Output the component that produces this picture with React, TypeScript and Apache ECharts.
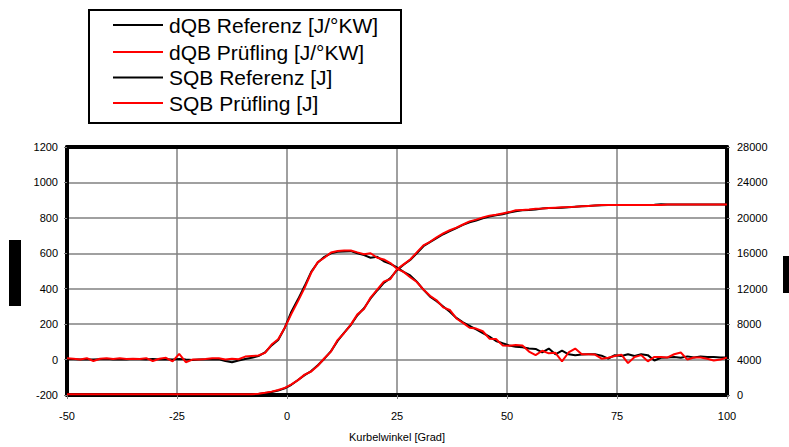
import React, { useEffect, useRef } from "react";
import * as echarts from "echarts";

// Kurbelwinkel [Grad]
const ANGLES = [
  -50, -48.5, -47, -45.5, -44, -42.5, -41, -39.5, -38, -36.5, -35, -33.5, -32, -30.5, -29, -27.5, -26, -24.5, -23, -21.5,
  -20, -18.5, -17, -15.5, -14, -12.5, -11, -9.5, -8, -6.5, -5, -3.5, -2, -0.5, 1, 2.5, 4, 5.5, 7, 8.5,
  10, 11.5, 13, 14.5, 16, 17.5, 19, 20.5, 22, 23.5, 25, 26.5, 28, 29.5, 31, 32.5, 34, 35.5, 37, 38.5,
  40, 41.5, 43, 44.5, 46, 47.5, 49, 50.5, 52, 53.5, 55, 56.5, 58, 59.5, 61, 62.5, 64, 65.5, 67, 68.5,
  70, 71.5, 73, 74.5, 76, 77.5, 79, 80.5, 82, 83.5, 85, 86.5, 88, 89.5, 91, 92.5, 94, 95.5, 97, 98.5, 100,
];

// dQB Referenz [J/°KW]
const DQB_REF = [
  2, 2, 0, 0, 0, 2, 3, 0, 2, 0, 3, 2, 0, 3, 0, 2, 0, 3, 0, -2,
  0, 0, 0, 2, -8, -15, -5, 3, 10, 20, 40, 80, 110, 180, 270, 340, 415, 495, 548, 580,
  600, 608, 610, 612, 600, 590, 575, 580, 555, 540, 520, 495, 475, 440, 395, 355, 330, 300, 270, 235,
  210, 190, 170, 150, 130, 105, 92, 80, 72, 70, 62, 60, 40, 62, 30, 50, 30, 25, 28, 30,
  30, 22, 5, 25, 20, 30, 20, 30, 25, -5, 10, 12, 15, 10, 18, 12, 18, 15, 15, 12, 12,
];

// dQB Prüfling [J/°KW]
const DQB_TEST = [
  8, 5, 0, 8, -8, 5, 8, 3, 8, 3, 5, 3, 8, -8, 5, 10, -10, 32, -15, 0,
  0, 3, 8, 8, 0, 5, 2, 17, 20, 23, 38, 85, 115, 180, 258, 330, 405, 490, 550, 575,
  604, 613, 616, 616, 605, 595, 600, 575, 565, 545, 512, 495, 465, 438, 395, 360, 335, 295, 280, 232,
  207, 180, 175, 160, 118, 116, 80, 78, 82, 80, 45, 25, 50, 35, 38, -10, 40, 62, 30, 30,
  28, 5, 10, 20, 28, -20, 15, 25, -10, 15, 15, 12, 30, 40, 0, 12, 12, 5, -5, 0, 11,
];

// SQB Referenz [J]
const SQB_REF = [
  80, 80, 80, 80, 80, 80, 80, 80, 80, 80, 80, 80, 80, 80, 80, 80, 80, 80, 80, 80,
  80, 80, 80, 80, 80, 80, 80, 80, 80, 100, 200, 330, 500, 760, 1150, 1700, 2250, 2700, 3350, 4100,
  4950, 6100, 7050, 7900, 9000, 9800, 10900, 11800, 12650, 13200, 14100, 14700, 15250, 16000, 16800, 17250, 17700, 18150, 18500, 18850,
  19200, 19500, 19700, 19950, 20150, 20300, 20400, 20600, 20750, 20850, 20900, 20950, 21050, 21100, 21100, 21150, 21200, 21250, 21300, 21350,
  21400, 21420, 21440, 21440, 21440, 21440, 21440, 21440, 21440, 21480, 21540, 21510, 21510, 21510, 21510, 21510, 21510, 21510, 21510, 21510, 21510,
];

// SQB Prüfling [J]
const SQB_TEST = [
  80, 80, 80, 80, 80, 80, 80, 80, 80, 80, 80, 80, 80, 80, 80, 80, 80, 80, 80, 80,
  80, 80, 80, 80, 80, 80, 80, 80, 80, 150, 250, 380, 560, 800, 1200, 1680, 2300, 2650, 3300, 4150,
  4900, 6200, 7000, 7950, 9100, 9700, 11000, 11900, 12800, 13100, 14200, 14750, 15300, 16100, 16900, 17300, 17800, 18250, 18600, 18900,
  19250, 19600, 19800, 20050, 20250, 20350, 20500, 20650, 20850, 20900, 20950, 21030, 21050, 21100, 21150, 21200, 21220, 21250, 21300, 21350,
  21400, 21450, 21450, 21450, 21450, 21450, 21450, 21450, 21450, 21450, 21450, 21510, 21510, 21510, 21510, 21510, 21510, 21510, 21510, 21510, 21510,
];

const LEGEND_NAMES = ["dQB Referenz [J/°KW]", "dQB Prüfling [J/°KW]", "SQB Referenz [J]", "SQB Prüfling [J]"];
const LEGEND_COLORS = ["#000000", "#ff0000", "#000000", "#ff0000"];

const FONT = "'Liberation Sans', Arial, sans-serif";

const zip = (vals: number[]) => ANGLES.map((a, i) => [a, vals[i]]);

export default function App() {
  const ref = useRef<HTMLDivElement>(null);

  useEffect(() => {
    if (!ref.current) return;
    const chart = echarts.init(ref.current, undefined, { renderer: "svg" });

    const legendRows = [25, 52, 77.5, 103];
    const legendGraphics: any[] = [
      {
        type: "rect",
        shape: { x: 89, y: 10, width: 312, height: 113 },
        style: { fill: "#fff", stroke: "#000", lineWidth: 2 },
        z: 10,
      },
    ];
    LEGEND_NAMES.forEach((name, i) => {
      legendGraphics.push({
        type: "line",
        shape: { x1: 113, y1: legendRows[i], x2: 163, y2: legendRows[i] },
        style: { stroke: LEGEND_COLORS[i], lineWidth: 2 },
        z: 11,
      });
      legendGraphics.push({
        type: "text",
        x: 169,
        y: legendRows[i],
        style: {
          text: name,
          font: `21px ${FONT}`,
          fill: "#000",
          verticalAlign: "middle",
          align: "left",
        },
        z: 11,
      });
    });

    const plain = (v: number) => String(v);
    const axisLabel = { color: "#000", fontSize: 11, fontFamily: FONT, formatter: plain };
    const gridLine = { color: "#808080", width: 1.5 };
    const frame = { show: true, onZero: false, lineStyle: { color: "#000", width: 4 } };

    chart.setOption({
      animation: false,
      backgroundColor: "#ffffff",
      grid: { left: 67, right: 62, top: 147, bottom: 50, containLabel: false },
      xAxis: [
        {
          type: "value",
          min: -50,
          max: 100,
          interval: 25,
          position: "bottom",
          axisLine: frame,
          axisTick: { show: true, length: 4, lineStyle: { color: "#808080", width: 1 } },
          axisLabel: { ...axisLabel, margin: 15 },
          splitLine: { show: true, showMinLine: false, showMaxLine: false, lineStyle: gridLine },
          name: "Kurbelwinkel [Grad]",
          nameLocation: "middle",
          nameGap: 36,
          nameTextStyle: { color: "#000", fontSize: 11, fontFamily: FONT },
        },
        {
          type: "value",
          min: -50,
          max: 100,
          interval: 25,
          position: "top",
          axisLine: frame,
          axisTick: { show: false },
          axisLabel: { show: false },
          splitLine: { show: false },
        },
      ],
      yAxis: [
        {
          type: "value",
          min: -200,
          max: 1200,
          interval: 200,
          position: "left",
          axisLine: frame,
          axisTick: { show: true, length: 3, lineStyle: { color: "#808080", width: 1 } },
          axisLabel: { ...axisLabel, margin: 9 },
          splitLine: { show: true, showMinLine: false, showMaxLine: false, lineStyle: gridLine },
        },
        {
          type: "value",
          min: 0,
          max: 28000,
          interval: 4000,
          position: "right",
          axisLine: frame,
          axisTick: { show: true, length: 3, lineStyle: { color: "#808080", width: 1 } },
          axisLabel: { ...axisLabel, margin: 10 },
          splitLine: { show: false },
        },
      ],
      series: [
        {
          name: LEGEND_NAMES[0],
          type: "line",
          xAxisIndex: 0,
          yAxisIndex: 0,
          data: zip(DQB_REF),
          showSymbol: false,
          lineStyle: { color: LEGEND_COLORS[0], width: 2 },
          itemStyle: { color: LEGEND_COLORS[0] },
        },
        {
          name: LEGEND_NAMES[2],
          type: "line",
          xAxisIndex: 0,
          yAxisIndex: 1,
          data: zip(SQB_REF),
          showSymbol: false,
          lineStyle: { color: LEGEND_COLORS[2], width: 2 },
          itemStyle: { color: LEGEND_COLORS[2] },
        },
        {
          name: LEGEND_NAMES[1],
          type: "line",
          xAxisIndex: 0,
          yAxisIndex: 0,
          data: zip(DQB_TEST),
          showSymbol: false,
          lineStyle: { color: LEGEND_COLORS[1], width: 2 },
          itemStyle: { color: LEGEND_COLORS[1] },
        },
        {
          name: LEGEND_NAMES[3],
          type: "line",
          xAxisIndex: 0,
          yAxisIndex: 1,
          data: zip(SQB_TEST),
          showSymbol: false,
          lineStyle: { color: LEGEND_COLORS[3], width: 2 },
          itemStyle: { color: LEGEND_COLORS[3] },
        },
      ],
      graphic: [
        ...legendGraphics,
        { type: "rect", shape: { x: 9, y: 240, width: 12, height: 66 }, style: { fill: "#000" } },
        { type: "rect", shape: { x: 783, y: 256, width: 6, height: 37 }, style: { fill: "#000" } },
      ],
    });

    return () => chart.dispose();
  }, []);

  return (
    <div
      ref={ref}
      style={{ position: "fixed", left: 0, top: 0, width: 789, height: 447 }}
    />
  );
}
